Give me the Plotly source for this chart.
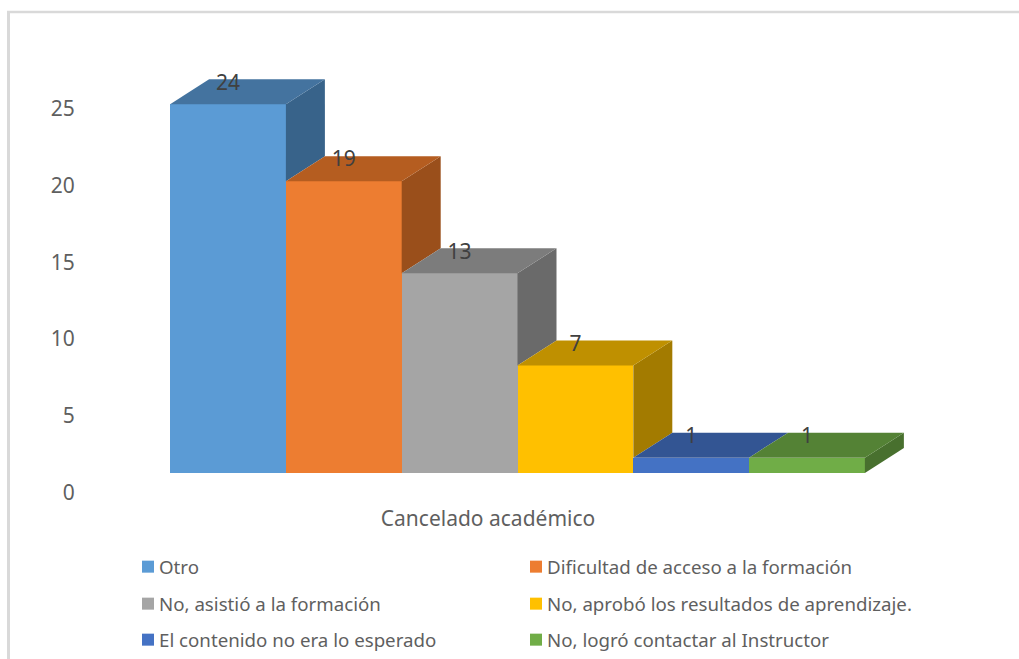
import plotly.graph_objects as go

categories = ["Otro", "Dificultad de acceso a la formación", "No, asistió a la formación",
              "No, aprobó los resultados de aprendizaje.", "El contenido no era lo esperado",
              "No, logró contactar al Instructor"]
values = [24, 19, 13, 7, 1, 1]
group_label = "Cancelado académico"
y_ticks = [0, 5, 10, 15, 20, 25]
front_colors = ["#5B9BD5", "#ED7D31", "#A5A5A5", "#FFC000", "#4472C4", "#70AD47"]
top_colors = ["#44739F", "#B55D20", "#7C7C7C", "#BF9000", "#335593", "#548235"]
side_colors = ["#38638A", "#9A4F1B", "#6A6A6A", "#A37B00", "#2B497E", "#48702E"]

# Pixel geometry of the picture
W, H = 1019, 659
L, R, T, B = 80, 910, 60, 495
BAR_PX, UNIT_PX = 115.8, 15.36
X0_PX, FLOOR_PX = 228, 473
DX, DY = 39 / BAR_PX, 25 / UNIT_PX
TICK_SHIFT = 19.6 / UNIT_PX
LABEL_LIFT = 1.3

fig = go.Figure()
legend_names = ["legend", "legend2", "legend3", "legend4", "legend5", "legend6"]
for i, (c, v) in enumerate(zip(categories, values)):
    fig.add_trace(go.Bar(x=[i], y=[v], width=1, name=c, marker=dict(color=front_colors[i], line=dict(width=0)),
                         legend=legend_names[i], hoverinfo="name+y"))
for i, v in enumerate(values):
    xl, xr = i - .5, i + .5
    vn = values[i + 1] if i + 1 < len(values) else 0
    fig.add_trace(go.Scatter(x=[xr, xr + DX, xr + DX, xr, xr], y=[v, v + DY, vn + DY, vn, v], mode="lines",
                             fill="toself", fillcolor=side_colors[i], line=dict(width=0),
                             showlegend=False, hoverinfo="skip"))
    fig.add_trace(go.Scatter(x=[xl, xr, xr + DX, xl + DX, xl], y=[v, v, v + DY, v + DY, v], mode="lines",
                             fill="toself", fillcolor=top_colors[i], line=dict(width=0),
                             showlegend=False, hoverinfo="skip"))
fig.add_trace(go.Scatter(x=list(range(len(values))), y=[v + LABEL_LIFT for v in values], mode="text",
                         text=[str(v) for v in values], textposition="middle center",
                         textfont=dict(size=21, color="#404040", family="Noto Sans"),
                         showlegend=False, hoverinfo="skip"))

x_lo = (L - X0_PX) / BAR_PX
x_hi = (R - X0_PX) / BAR_PX
layout = dict(
    width=W, height=H, autosize=False, paper_bgcolor="white", plot_bgcolor="rgba(0,0,0,0)",
    margin=dict(l=L, r=W - R, t=T, b=H - B, pad=0, autoexpand=False), barmode="overlay", bargap=0,
    font=dict(family="Noto Sans", color="#5F5F5F", size=18),
    xaxis=dict(range=[x_lo, x_hi], tickvals=[(488 - X0_PX) / BAR_PX], ticktext=[group_label], showgrid=False,
               zeroline=False, showline=False, ticks="outside", ticklen=5, tickcolor="rgba(0,0,0,0)",
               tickfont=dict(size=21, color="#5F5F5F")),
    yaxis=dict(range=[(FLOOR_PX - B) / UNIT_PX, (FLOOR_PX - T) / UNIT_PX],
               tickvals=[t - TICK_SHIFT for t in y_ticks], ticktext=[str(t) for t in y_ticks],
               ticks="outside", ticklen=0, tickcolor="rgba(0,0,0,0)",
               showgrid=False, zeroline=False, showline=False, tickfont=dict(size=21, color="#5F5F5F")),
    shapes=[
        dict(type="line", xref="paper", yref="paper", x0=(8.5 - L) / (R - L), x1=(8.5 - L) / (R - L),
             y0=(B - 12) / (B - T), y1=(B - H) / (B - T), line=dict(color="#D9D9D9", width=3)),
        dict(type="line", xref="paper", yref="paper", x0=(7 - L) / (R - L), x1=(W - L) / (R - L),
             y0=(B - 12) / (B - T), y1=(B - 12) / (B - T), line=dict(color="#D9D9D9", width=2.5)),
    ],
)
legend_x = [134, 522] * 3
legend_y = [567, 567, 604, 604, 640, 640]
for name, px, py in zip(legend_names, legend_x, legend_y):
    layout[name] = dict(x=(px - L) / (R - L), y=(B - py) / (B - T), xanchor="left", yanchor="middle",
                        xref="paper", yref="paper", bgcolor="rgba(0,0,0,0)", indentation=-15,
                        font=dict(size=18.7, color="#5F5F5F", family="Noto Sans"), borderwidth=0)
fig.update_layout(**layout)
post = """document.body.style.margin='0';
document.querySelectorAll('.legendsymbols').forEach(function(g){
  g.setAttribute('transform',(g.getAttribute('transform')||'')+' translate(9,0)');
});"""
fig.write_html("out.html", post_script=post, config={"displayModeBar": False})
